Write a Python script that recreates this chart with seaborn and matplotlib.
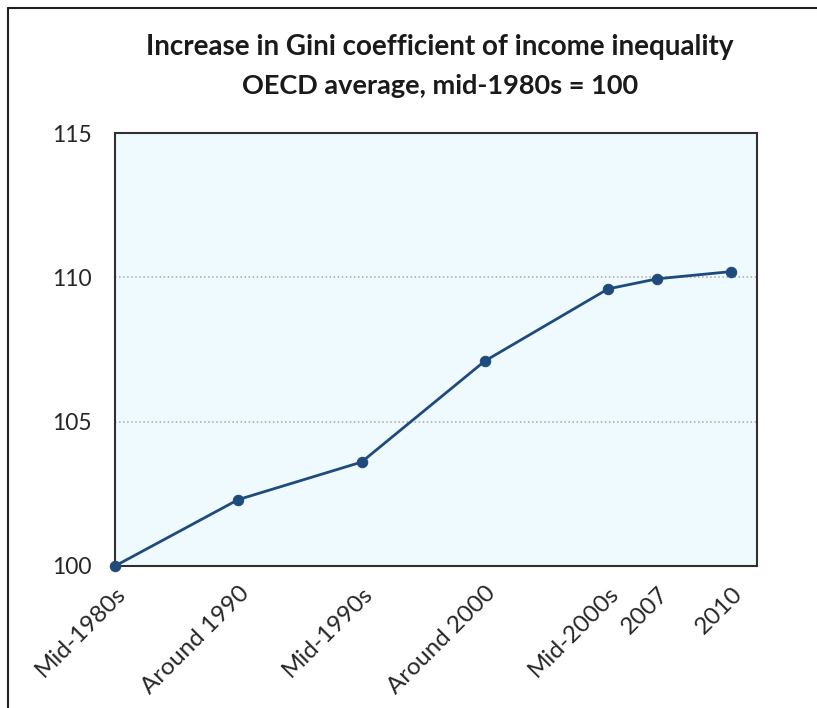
"""
Increase in Gini coefficient of income inequality, OECD average.
"""

import matplotlib
matplotlib.use("Agg")
import matplotlib.pyplot as plt
import seaborn as sns
import pandas as pd
from matplotlib.lines import Line2D

years = [1985, 1990, 1995, 2000, 2005, 2007, 2010]
labels = ["Mid-1980s", "Around 1990", "Mid-1990s", "Around 2000",
          "Mid-2000s", "2007", "2010"]
gini_index = [100.0, 102.3, 103.6, 107.1, 109.6, 109.95, 110.2]
y_ticks = [100, 105, 110, 115]

LINE_COLOR = "#1f4a7c"


def make_chart():
    sns.set_style("white")
    plt.rcParams["font.family"] = ["Lato", "DejaVu Sans"]

    df = pd.DataFrame({"year": years, "gini": gini_index})

    fig = plt.figure(figsize=(8.17, 7.08), dpi=100)
    ax = fig.add_axes([0.1408, 0.2006, 0.786, 0.6115])
    ax.set_facecolor("#effafe")

    sns.lineplot(
        data=df, x="year", y="gini", ax=ax,
        color=LINE_COLOR, linewidth=2.0,
        marker="o", markersize=7.5,
        markeredgecolor=LINE_COLOR, markerfacecolor=LINE_COLOR,
        clip_on=False, zorder=3
    )

    ax.set_xlim(1985, 2011.05)
    ax.set_ylim(100, 115)
    ax.set_xticks(years)
    ax.set_xticklabels(labels, rotation=45, ha="right",
                       rotation_mode="anchor", fontsize=17.5)
    ax.set_yticks(y_ticks)
    ax.set_yticklabels([str(v) for v in y_ticks], fontsize=16.5)
    ax.set_xlabel("")
    ax.set_ylabel("")

    ax.tick_params(axis="x", direction="in", length=6, width=1.2,
                   color="#404040", pad=12)
    ax.tick_params(axis="y", direction="in", length=6, width=1.2,
                   color="#404040", pad=17)

    for v in [105, 110]:
        ax.axhline(v, color="#a8a8a8", linestyle=":", linewidth=1.1,
                   zorder=1)

    for side in ["left", "right", "top", "bottom"]:
        ax.spines[side].set_color("#303030")
        ax.spines[side].set_linewidth(1.5)

    fig.text(0.5386, 0.933, "Increase in Gini coefficient of income inequality",
             ha="center", va="center", fontsize=20, fontweight="bold",
             color="#1a1a1a")
    fig.text(0.5386, 0.879, "OECD average, mid-1980s = 100",
             ha="center", va="center", fontsize=19.5, fontweight="bold",
             color="#1a1a1a")

    # outer frame (top and left edges visible)
    fig.add_artist(Line2D([0.010, 1.0], [0.989, 0.989],
                          transform=fig.transFigure, color="#202020",
                          linewidth=1.5))
    fig.add_artist(Line2D([0.010, 0.010], [0.0, 0.989],
                          transform=fig.transFigure, color="#202020",
                          linewidth=1.5))

    fig.savefig("out.png", dpi=100)


if __name__ == "__main__":
    make_chart()
